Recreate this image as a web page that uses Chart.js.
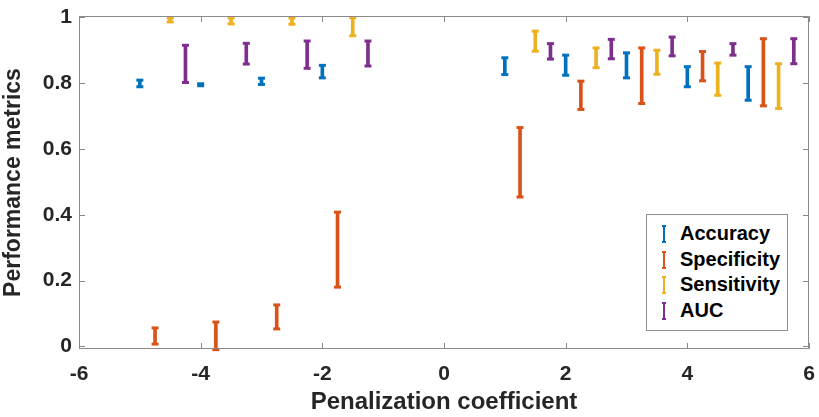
<!DOCTYPE html>
<html>
<head>
<meta charset="utf-8">
<script src="https://cdn.jsdelivr.net/npm/chart.js@4/dist/chart.umd.min.js"></script>
<style>
body { margin: 0; background: #fff; }
#wrap { position: relative; width: 819px; height: 417px; }
#legend {
  position: absolute; left: 646px; top: 214px; width: 140px; height: 109px;
  border: 1px solid #8f8f8f; background: #fff; box-sizing: content-box;
  font: bold 20px "Liberation Sans", Arial, sans-serif; color: #000;
  padding-top: 6px;
}
#legend div { height: 25.5px; line-height: 25.5px; white-space: nowrap; }
#legend svg { margin-left: 14px; margin-right: 13px; vertical-align: -3px; }
</style>
</head>
<body>
<div id="wrap">
  <canvas id="chart" width="819" height="417"></canvas>
  <div id="legend"></div>
</div>
<script>
// data
const penalty = [-5, -4, -3, -2, 1, 2, 3, 4, 5];
const metricNames = ["Accuracy", "Specificity", "Sensitivity", "AUC"];
const metricColors = ["#0072BD", "#D95319", "#EDB120", "#7E2F8E"];
const metricShift = [0, 0.25, 0.5, 0.75];

const accuracyLow  = [0.789, 0.792, 0.796, 0.816, 0.826, 0.824, 0.816, 0.789, 0.748];
const accuracyHigh = [0.809, 0.798, 0.815, 0.854, 0.877, 0.885, 0.892, 0.850, 0.850];
const specificityLow  = [0.007, -0.010, 0.053, 0.180, 0.454, 0.720, 0.738, 0.807, 0.731];
const specificityHigh = [0.056, 0.074, 0.126, 0.408, 0.665, 0.806, 0.907, 0.896, 0.935];
const sensitivityLow  = [0.986, 0.980, 0.979, 0.944, 0.897, 0.847, 0.827, 0.763, 0.723];
const sensitivityHigh = [0.998, 0.998, 0.998, 0.999, 0.958, 0.907, 0.900, 0.861, 0.859];
const aucLow  = [0.802, 0.858, 0.845, 0.852, 0.873, 0.874, 0.883, 0.885, 0.859];
const aucHigh = [0.915, 0.921, 0.928, 0.928, 0.920, 0.933, 0.940, 0.920, 0.935];

const xTicks = [-6, -4, -2, 0, 2, 4, 6];
const yTicks = [0, 0.2, 0.4, 0.6, 0.8, 1];

const lows = [accuracyLow, specificityLow, sensitivityLow, aucLow];
const highs = [accuracyHigh, specificityHigh, sensitivityHigh, aucHigh];

const FONT = "'Liberation Sans', Arial, sans-serif";

let datasets = [];
metricNames.forEach((name, i) => {
  let xs = penalty.map(p => p + metricShift[i]);
  datasets.push({
    type: "bar",
    label: name,
    data: xs.map((x, j) => ({ x: x, y: [lows[i][j], highs[i][j]] })),
    backgroundColor: metricColors[i],
    borderWidth: 0,
    barThickness: 3,
    grouped: false,
    clip: false
  });
  datasets.push({
    type: "scatter",
    label: name + " caps",
    data: xs.map((x, j) => ({ x: x, y: lows[i][j] }))
      .concat(xs.map((x, j) => ({ x: x, y: highs[i][j] }))),
    pointStyle: "line",
    radius: 3.5,
    borderWidth: 3,
    borderColor: metricColors[i],
    backgroundColor: metricColors[i],
    clip: false
  });
});

// MATLAB style box with inward ticks
const boxPlugin = {
  id: "box",
  afterDraw(chart) {
    const { ctx, chartArea: a, scales } = chart;
    ctx.save();
    ctx.strokeStyle = "#8a8a8a";
    ctx.lineWidth = 1;
    ctx.beginPath();
    ctx.rect(a.left + 0.5, a.top + 0.5, a.right - a.left - 1, a.bottom - a.top - 1);
    xTicks.forEach(v => {
      let px = Math.round(scales.x.getPixelForValue(v)) + 0.5;
      ctx.moveTo(px, a.bottom); ctx.lineTo(px, a.bottom - 6);
      ctx.moveTo(px, a.top); ctx.lineTo(px, a.top + 6);
    });
    yTicks.forEach(v => {
      let py = Math.round(scales.y.getPixelForValue(v)) + 0.5;
      ctx.moveTo(a.left, py); ctx.lineTo(a.left + 6, py);
      ctx.moveTo(a.right, py); ctx.lineTo(a.right - 6, py);
    });
    ctx.stroke();
    ctx.restore();
  }
};

new Chart(document.getElementById("chart"), {
  type: "bar",
  data: { datasets: datasets },
  options: {
    responsive: false,
    animation: false,
    events: [],
    layout: { autoPadding: false, padding: { top: 16, right: 10, left: 0, bottom: 0 } },
    plugins: { legend: { display: false }, tooltip: { enabled: false } },
    scales: {
      x: {
        type: "linear",
        min: -6, max: 6,
        offset: false,
        grid: { display: false, drawTicks: false },
        border: { display: false },
        afterBuildTicks: s => { s.ticks = xTicks.map(v => ({ value: v })); },
        afterFit: s => { s.height = 68; s.paddingLeft = 0; s.paddingRight = 0; },
        ticks: {
          padding: 13,
          maxRotation: 0,
          color: "#262626",
          font: { family: FONT, size: 21, weight: "bold" }
        },
        title: {
          display: true,
          text: "Penalization coefficient",
          color: "#262626",
          padding: { top: 0, bottom: 0 },
          font: { family: FONT, size: 24, weight: "bold" }
        }
      },
      y: {
        min: -0.008, max: 1.004,
        grid: { display: false, drawTicks: false },
        border: { display: false },
        afterBuildTicks: s => { s.ticks = yTicks.map(v => ({ value: v })); },
        afterFit: s => { s.width = 79; s.paddingTop = 0; s.paddingBottom = 0; },
        ticks: {
          padding: 7,
          color: "#262626",
          font: { family: FONT, size: 21, weight: "bold" },
          callback: v => String(Math.round(v * 10) / 10)
        },
        title: {
          display: true,
          text: "Performance metrics",
          color: "#262626",
          padding: { top: 0, bottom: 2 },
          font: { family: FONT, size: 23, weight: "bold" }
        }
      }
    }
  },
  plugins: [boxPlugin]
});

// legend drawn as html, one I-shaped marker per metric
const legend = document.getElementById("legend");
metricNames.forEach((name, i) => {
  let c = metricColors[i];
  let row = document.createElement("div");
  row.innerHTML =
    '<svg width="6" height="18" viewBox="0 0 6 18">' +
    '<line x1="3" y1="0" x2="3" y2="18" stroke="' + c + '" stroke-width="2"/>' +
    '<line x1="1" y1="1" x2="5" y2="1" stroke="' + c + '" stroke-width="2"/>' +
    '<line x1="1" y1="17" x2="5" y2="17" stroke="' + c + '" stroke-width="2"/>' +
    '</svg>' + name;
  legend.appendChild(row);
});
</script>
</body>
</html>
